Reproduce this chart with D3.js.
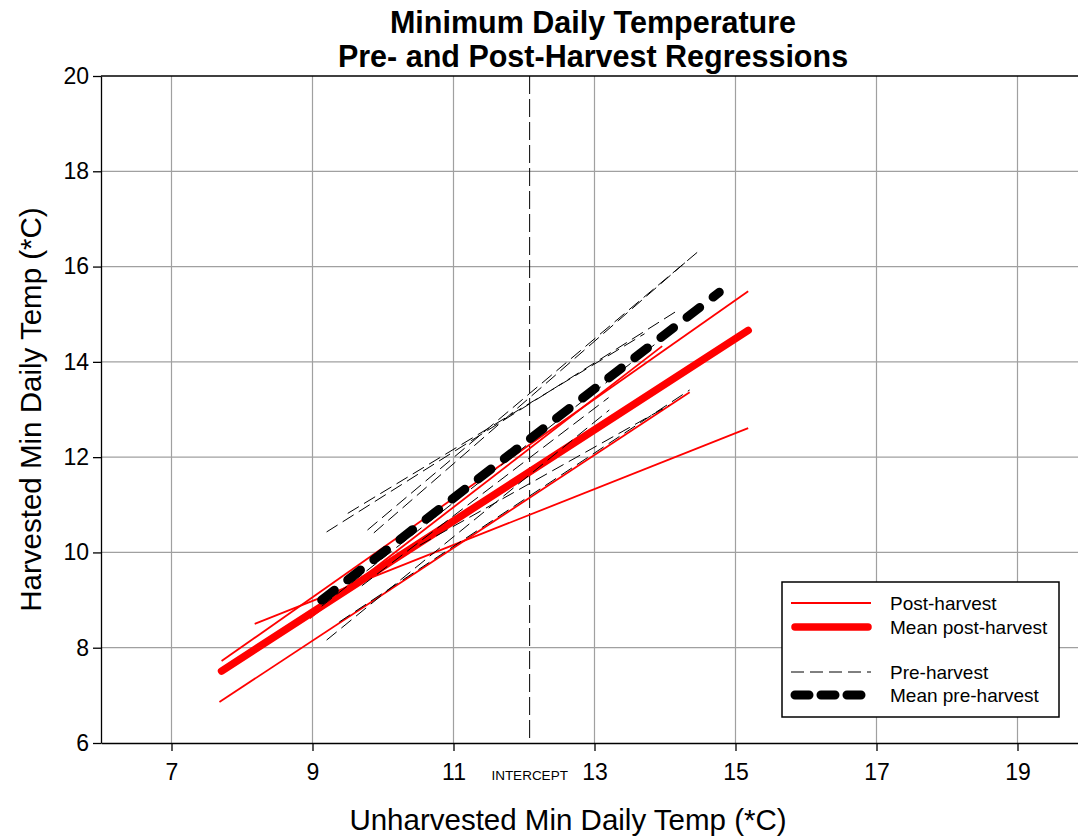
<!DOCTYPE html>
<html>
<head>
<meta charset="utf-8">
<script src="https://cdn.jsdelivr.net/npm/d3@7"></script>
<style>
  body { margin: 0; background: #fff; }
  text { font-family: "Liberation Sans", Arial, sans-serif; }
</style>
</head>
<body>
<svg id="chart" width="1078" height="836"></svg>
<script>
// ---- data ----
const titleLines = ["Minimum Daily Temperature", "Pre- and Post-Harvest Regressions"];
const xLabel = "Unharvested Min Daily Temp (*C)";
const yLabel = "Harvested Min Daily Temp (*C)";
const xTicks = [7, 9, 11, 13, 15, 17, 19];
const yTicks = [6, 8, 10, 12, 14, 16, 18, 20];
const interceptX = 12.08;
const interceptLabel = "INTERCEPT";

// regression segments: [x start, y start, x end, y end]
const postHarvest = [
  [7.71, 7.72, 15.18, 15.48],
  [7.68, 6.86, 14.35, 13.36],
  [8.18, 8.50, 15.18, 12.61],
  [8.96, 8.62, 13.96, 14.33]
];
const meanPost = [7.71, 7.51, 15.18, 14.66];

const preHarvest = [
  [9.78, 10.47, 14.49, 16.34],
  [9.87, 10.41, 14.29, 16.09],
  [9.20, 10.43, 14.18, 15.08],
  [9.50, 10.82, 13.71, 14.59],
  [9.13, 8.87, 13.85, 14.36],
  [9.20, 8.16, 13.21, 12.99],
  [9.38, 8.54, 14.35, 13.41],
  [10.52, 10.15, 14.06, 13.09],
  [9.70, 9.30, 13.20, 13.25]
];
const meanPre = [9.13, 9.00, 14.77, 15.46];

const legendLabels = ["Post-harvest", "Mean post-harvest", "Pre-harvest", "Mean pre-harvest"];

// ---- layout ----
const svg = d3.select("#chart");
const x = d3.scaleLinear().domain([6, 20]).range([101, 1088]);
const y = d3.scaleLinear().domain([6, 20]).range([743, 76]);
const plotTop = y(20), plotBottom = y(6);
const plotLeft = x(6), plotRight = x(20);

const styles = {
  post:     { stroke: "#ff0000", width: 1.8, dash: null, cap: "butt" },
  meanPost: { stroke: "#ff0000", width: 7.5, dash: null, cap: "round" },
  pre:      { stroke: "#000",    width: 1,   dash: "13,6", cap: "butt" },
  meanPre:  { stroke: "#000",    width: 9,   dash: "16,17", cap: "round" }
};

// grid
const grid = svg.append("g").attr("stroke", "#a0a0a0").attr("stroke-width", 1.2);
grid.selectAll("line.v").data(xTicks).join("line").attr("class", "v")
  .attr("x1", d => x(d)).attr("x2", d => x(d))
  .attr("y1", plotTop).attr("y2", plotBottom);
grid.selectAll("line.h").data(yTicks.filter(d => d > 6 && d < 20)).join("line").attr("class", "h")
  .attr("x1", plotLeft).attr("x2", plotRight)
  .attr("y1", d => y(d)).attr("y2", d => y(d));

// intercept marker
svg.append("line")
  .attr("x1", x(interceptX)).attr("x2", x(interceptX))
  .attr("y1", plotTop).attr("y2", plotBottom)
  .attr("stroke", "#000").attr("stroke-width", 1)
  .attr("stroke-dasharray", "18,5");

function drawSegments(data, st) {
  svg.append("g").selectAll("line").data(data).join("line")
    .attr("x1", d => x(d[0])).attr("y1", d => y(d[1]))
    .attr("x2", d => x(d[2])).attr("y2", d => y(d[3]))
    .attr("stroke", st.stroke).attr("stroke-width", st.width)
    .attr("stroke-linecap", st.cap)
    .attr("stroke-dasharray", st.dash);
}

drawSegments(postHarvest, styles.post);
drawSegments([meanPost], styles.meanPost);
drawSegments(preHarvest, styles.pre);
drawSegments([meanPre], styles.meanPre);

// axes
const xAxis = svg.append("g").attr("transform", `translate(0,${plotBottom})`)
  .call(d3.axisBottom(x).tickValues(xTicks).tickSize(8).tickSizeOuter(0).tickPadding(13));
const yAxis = svg.append("g").attr("transform", `translate(${plotLeft},0)`)
  .call(d3.axisLeft(y).tickValues(yTicks).tickSize(8).tickSizeOuter(0).tickPadding(4));
[xAxis, yAxis].forEach(a => {
  a.select(".domain").attr("stroke", "#000").attr("stroke-width", 1.3);
  a.selectAll(".tick line").attr("stroke", "#000").attr("stroke-width", 1.3);
  a.selectAll(".tick text").attr("fill", "#000")
    .style("font-family", '"Liberation Sans", Arial, sans-serif').style("font-size", "23px");
});
// top frame line
svg.append("line").attr("x1", plotLeft).attr("x2", plotRight).attr("y1", plotTop).attr("y2", plotTop)
  .attr("stroke", "#000").attr("stroke-width", 1.3);

svg.append("text").attr("x", x(interceptX)).attr("y", 780)
  .attr("text-anchor", "middle").style("font-size", "13.5px").text(interceptLabel);

// titles
svg.append("g").selectAll("text").data(titleLines).join("text")
  .attr("x", 593).attr("y", (d, i) => 33 + i * 34)
  .attr("text-anchor", "middle").style("font-size", "30.5px").style("font-weight", "bold")
  .text(d => d);

svg.append("text").attr("x", 568).attr("y", 830).attr("text-anchor", "middle")
  .style("font-size", "29.5px").text(xLabel);
svg.append("text").attr("transform", `translate(41,${(plotTop + plotBottom) / 2}) rotate(-90)`)
  .attr("text-anchor", "middle").style("font-size", "29.5px").text(yLabel);

// legend
const lg = svg.append("g");
lg.append("rect").attr("x", 782).attr("y", 582).attr("width", 277).attr("height", 135)
  .attr("fill", "#fff").attr("stroke", "#000").attr("stroke-width", 1.5);
const legendRows = [
  { label: legendLabels[0], st: styles.post,     y: 603 },
  { label: legendLabels[1], st: styles.meanPost, y: 627 },
  { label: legendLabels[2], st: styles.pre,      y: 672 },
  { label: legendLabels[3], st: { ...styles.meanPre, dash: "14,12" }, y: 695 }
];
legendRows.forEach(r => {
  lg.append("line").attr("x1", r.st.cap === "round" ? 795 : 791).attr("x2", r.st.cap === "round" ? 868 : 871)
    .attr("y1", r.y).attr("y2", r.y)
    .attr("stroke", r.st.stroke).attr("stroke-width", r.st.width)
    .attr("stroke-linecap", r.st.cap).attr("stroke-dasharray", r.st.dash);
  lg.append("text").attr("x", 890).attr("y", r.y + 7).style("font-size", "19px").text(r.label);
});
</script>
</body>
</html>
